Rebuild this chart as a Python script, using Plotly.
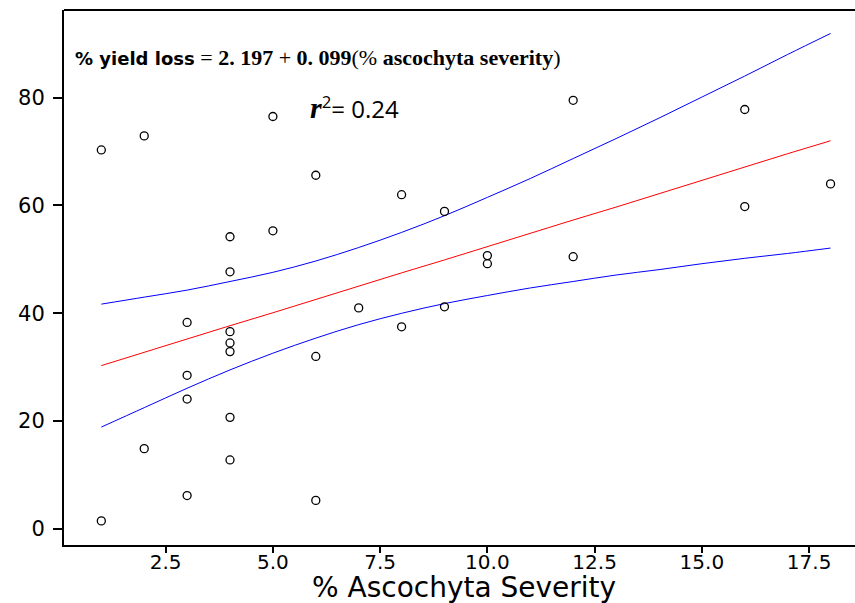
import plotly.graph_objects as go

# Observed data (% ascochyta severity vs % yield loss)
severity = [1, 1, 2, 2, 3, 3, 3, 3, 4, 4, 4, 4, 4, 4, 4, 5, 5, 6, 6, 6, 7, 8, 8, 9, 9, 10, 10, 12, 12, 16, 16, 18]
yield_loss = [70.3, 1.5, 72.9, 14.9, 38.3, 28.5, 24.1, 6.2, 54.2, 47.7, 36.6, 34.5, 32.9, 20.7, 12.8,
              76.5, 55.3, 65.6, 32.0, 5.3, 41.0, 62.0, 37.5, 58.9, 41.2, 50.7, 49.2, 79.5, 50.5, 77.8, 59.8, 64.0]

# Fitted line and confidence band
fit_x = [1, 2, 3, 4, 5, 6, 7, 8, 9, 10, 11, 12, 13, 14, 15, 16, 17, 18]
fit_y = [30.3, 32.8, 35.2, 37.7, 40.1, 42.6, 45.0, 47.5, 49.9, 52.4, 54.8, 57.3, 59.7, 62.2, 64.6, 67.1, 69.6, 72.0]
upper = [41.7, 43.0, 44.3, 45.9, 47.6, 49.7, 52.2, 55.0, 58.1, 61.5, 65.0, 68.7, 72.4, 76.2, 80.1, 84.0, 88.0, 91.9]
lower = [18.9, 22.5, 26.1, 29.5, 32.6, 35.4, 37.9, 40.0, 41.8, 43.3, 44.7, 45.9, 47.1, 48.1, 49.2, 50.2, 51.1, 52.1]

x_ticks = [2.5, 5.0, 7.5, 10.0, 12.5, 15.0, 17.5]
y_ticks = [0, 20, 40, 60, 80]

fig = go.Figure()
fig.add_trace(go.Scatter(x=fit_x, y=upper, mode="lines", line=dict(color="#0000ff", width=1, shape="spline"),
                         showlegend=False, hoverinfo="skip"))
fig.add_trace(go.Scatter(x=fit_x, y=lower, mode="lines", line=dict(color="#0000ff", width=1, shape="spline"),
                         showlegend=False, hoverinfo="skip"))
fig.add_trace(go.Scatter(x=fit_x, y=fit_y, mode="lines", line=dict(color="#ff0000", width=1),
                         showlegend=False, hoverinfo="skip"))
fig.add_trace(go.Scatter(x=severity, y=yield_loss, mode="markers",
                         marker=dict(symbol="circle-open", size=8, color="black", line=dict(width=1.3, color="black")),
                         showlegend=False))

fig.update_layout(
    width=855, height=603,
    margin=dict(l=64, r=0, t=10, b=58),
    paper_bgcolor="white", plot_bgcolor="white",
    xaxis=dict(range=[0.13, 18.57], tickvals=x_ticks, ticktext=[f"{v:.1f}" for v in x_ticks],
               showgrid=False, zeroline=False, showline=True, linecolor="black", linewidth=2,
               ticks="outside", ticklen=6, tickwidth=1.5, tickcolor="black", ticklabelstandoff=-8,
               tickfont=dict(family="DejaVu Sans, sans-serif", size=20, color="black")),
    yaxis=dict(range=[-2.97, 96.25], tickvals=y_ticks, ticktext=[str(v) for v in y_ticks],
               showgrid=False, zeroline=False, showline=True, linecolor="black", linewidth=2,
               ticks="outside", ticklen=9, tickwidth=1.5, tickcolor="black", ticklabelstandoff=4,
               tickfont=dict(family="DejaVu Sans, sans-serif", size=21, color="black")),
    shapes=[dict(type="line", xref="paper", yref="paper", x0=0, x1=1, y0=1, y1=1,
                 line=dict(color="black", width=2))],
    annotations=[
        dict(xref="paper", yref="paper", x=0.5057, y=-0.079, xanchor="center", yanchor="middle",
             text="% Ascochyta Severity", showarrow=False,
             font=dict(family="DejaVu Sans, sans-serif", size=28, color="black")),
        dict(xref="paper", yref="paper", x=0.0118, y=0.912, xanchor="left", yanchor="middle",
             showarrow=False,
             text=("<b>% yield loss</b>"
                   "<span style=\"font-family:'Liberation Serif';font-size:22px\"> = <b>2. 197</b> + <b>0. 099</b>(%"
                   " <b>ascochyta severity</b>)</span>"),
             font=dict(family="DejaVu Sans, sans-serif", size=18, color="black")),
        dict(xref="paper", yref="paper", x=0.3085, y=0.818, xanchor="left", yanchor="middle",
             showarrow=False,
             text=("<span style=\"font-family:'Liberation Serif';font-size:30px\"><b><i>r</i></b></span>"
                   "<sup>2</sup>= 0.24"),
             font=dict(family="Open Sans, sans-serif", size=24, color="black")),
    ],
)

fig.write_html("out.html")
